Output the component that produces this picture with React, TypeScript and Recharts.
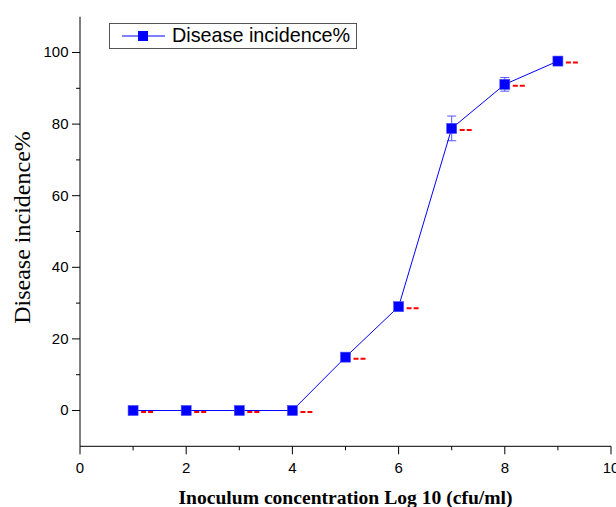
import React from 'react';
import { LineChart, Line, XAxis, YAxis, ErrorBar, Legend } from 'recharts';

const concentrations = [1, 2, 3, 4, 5, 6, 7, 8, 9];
const incidence = [0, 0, 0, 0, 14.9, 29.0, 78.8, 91.1, 97.6];
const incidenceError = [0, 0, 0, 0, 0, 0, 3.45, 1.9, 0];
const xTicks = [0, 1, 2, 3, 4, 5, 6, 7, 8, 9, 10];
const yTicks = [0, 10, 20, 30, 40, 50, 60, 70, 80, 90, 100];
const xMajorLabels = [0, 2, 4, 6, 8, 10];
const yMajorLabels = [0, 20, 40, 60, 80, 100];
const seriesName = 'Disease incidence%';
const xTitle = 'Inoculum concentration Log 10 (cfu/ml)';
const yTitle = 'Disease incidence%';

const data = concentrations.map((c, i) => ({
  conc: c,
  incidence: incidence[i],
  err: incidenceError[i],
}));

const SANS = '"Liberation Sans", Arial, sans-serif';
const SERIF = '"Liberation Serif", "Times New Roman", serif';

const XTick = (props: any) => {
  const { x, y, payload } = props;
  const v = payload.value;
  const major = xMajorLabels.includes(v);
  return (
    <g>
      <line x1={x} x2={x} y1={y} y2={y + (major ? 8 : 4)} stroke="#000" strokeWidth={1} />
      {major && (
        <text x={x} y={y + 26.5} textAnchor="middle" fontSize={15} fontFamily={SANS} fill="#000">
          {v}
        </text>
      )}
    </g>
  );
};

const YTick = (props: any) => {
  const { x, y, payload } = props;
  const v = payload.value;
  const major = yMajorLabels.includes(v);
  return (
    <g>
      <line x1={x - (major ? 8 : 4)} x2={x} y1={y} y2={y} stroke="#000" strokeWidth={1} />
      {major && (
        <text x={x - 11.5} y={y} dy="0.33em" textAnchor="end" fontSize={15} fontFamily={SANS} fill="#000">
          {v}
        </text>
      )}
    </g>
  );
};

const renderDot = (p: any) => {
  const { cx, cy, index } = p;
  if (cx == null || cy == null) return <g key={`d-${index}`} />;
  return (
    <g key={`d-${index}`}>
      <rect x={cx - 5} y={cy - 5} width={10} height={10} fill="#0000ff" stroke="#4a4aff" strokeWidth={0.6} />
      <line
        x1={cx + 8}
        x2={cx + 21}
        y1={cy + 1.5}
        y2={cy + 1.5}
        stroke="#ff0000"
        strokeWidth={2}
        strokeDasharray="5 2"
      />
    </g>
  );
};

const LegendBox = (props: any) => {
  const item = props.payload && props.payload[0];
  return (
    <div
      style={{
        border: '1px solid #555',
        boxSizing: 'border-box',
        width: 248,
        height: 26,
        display: 'flex',
        alignItems: 'center',
        background: '#fff',
        fontFamily: SANS,
        fontSize: 19.8,
        color: '#000',
        lineHeight: 1,
      }}
    >
      <svg width={56} height={24} style={{ display: 'block', flex: 'none' }}>
        <line x1={12} x2={55} y1={12} y2={12} stroke="#0000ff" strokeWidth={1} />
        <rect x={28} y={7} width={10} height={10} fill="#0000ff" />
      </svg>
      <span style={{ marginLeft: 6, whiteSpace: 'nowrap' }}>{item ? item.value : seriesName}</span>
    </div>
  );
};

const YTitle = (p: any) => {
  const vb = p.viewBox || { x: 0, y: 0, width: 80, height: 430 };
  const tx = vb.x + 30;
  const ty = vb.y + vb.height / 2 - 4;
  return (
    <text
      x={tx}
      y={ty}
      transform={`rotate(-90 ${tx} ${ty})`}
      textAnchor="middle"
      fontSize={24}
      fontFamily={SERIF}
      fill="#000"
    >
      {yTitle}
    </text>
  );
};

export default function App() {
  return (
    <div style={{ position: 'absolute', left: 0, top: 0, width: 616, height: 507, background: '#fff' }}>
      <LineChart width={616} height={507} data={data} margin={{ top: 16.7, right: 5, bottom: 0, left: 0 }}>
        <XAxis
          dataKey="conc"
          type="number"
          domain={[0, 10]}
          ticks={xTicks}
          interval={0}
          allowDataOverflow
          height={60.7}
          stroke="#000"
          tickLine={false}
          tickSize={0}
          tickMargin={0}
          tick={XTick}
          label={{
            value: xTitle,
            position: 'insideBottom',
            offset: 3,
            style: { fontFamily: SERIF, fontWeight: 'bold', fontSize: 19.6, fill: '#000' },
          }}
        />
        <YAxis
          type="number"
          domain={[-10, 110]}
          ticks={yTicks}
          interval={0}
          allowDataOverflow
          width={80}
          stroke="#000"
          tickLine={false}
          tickSize={0}
          tickMargin={0}
          tick={YTick}
          label={{ content: YTitle }}
        />
        <Legend
          layout="horizontal"
          verticalAlign="middle"
          align="center"
          content={LegendBox}
          wrapperStyle={{ left: 109, top: 23, width: 248, height: 26 }}
        />
        <Line
          type="linear"
          dataKey="incidence"
          name={seriesName}
          stroke="#0000ff"
          strokeWidth={1}
          dot={renderDot}
          activeDot={false}
          isAnimationActive={false}
        >
          <ErrorBar dataKey="err" width={4.5} stroke="#5555ff" strokeWidth={1} direction="y" isAnimationActive={false} />
        </Line>
      </LineChart>
    </div>
  );
}
